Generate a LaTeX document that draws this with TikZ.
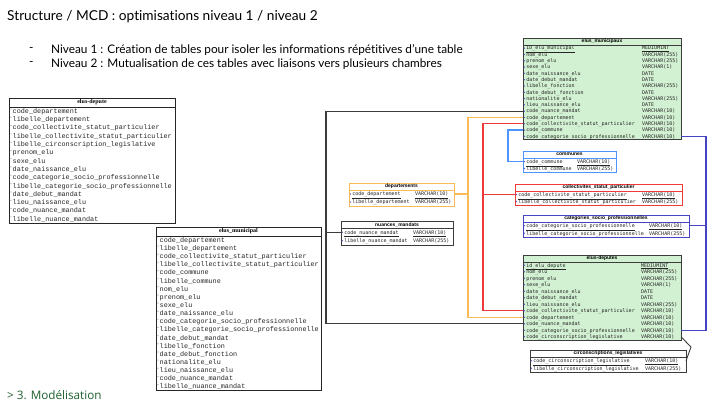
\documentclass[tikz,border=0pt]{standalone}
\usepackage{fontspec}
\setmainfont{Lato}[Ligatures={NoCommon}]
\newfontfamily\monoL{Liberation Mono}
\newfontfamily\monoD{DejaVu Sans Mono}
\newfontfamily\hdr{Liberation Sans}
\newfontfamily\hdrserif{Liberation Serif}
\newfontfamily\footf{Open Sans}
\definecolor{tgreen}{HTML}{D2F0D2}
\definecolor{dborder}{HTML}{3C3C3C}
\definecolor{corange}{HTML}{F8BB55}
\definecolor{cred}{HTML}{EE3A3A}
\definecolor{cblue}{HTML}{4D94FF}
\definecolor{cindigo}{HTML}{4545C4}
\definecolor{cfoot}{HTML}{1E5F2E}
\definecolor{cmark}{HTML}{5A5AD8}
\tikzset{
  rfont/.style={font=\monoD\fontsize{5}{5}\selectfont, inner sep=0pt, text=black!85},
  hfont/.style={font=\hdr\bfseries\fontsize{5}{5}\selectfont, inner sep=0pt},
  lrfont/.style={font=\monoL\fontsize{6.8}{7}\selectfont, inner sep=0pt, text=black!85},
  lhfont/.style={font=\hdrserif\bfseries\fontsize{6}{6}\selectfont, inner sep=0pt},
  conn/.style={line width=1.3pt},
  bigtext/.style={font=\fontsize{11.8}{13}\selectfont, inner sep=0pt, anchor=west},
}
% right-hand (model) tables: name, xl, xr, ytop, rowh, border, fill, type x, title ; rows in \trows
\newcommand{\rtab}[9]{%
  \global\let\nr\relax
  \foreach \fa/\ty [count=\i] in \trows {\xdef\nr{\i}}%
  \pgfmathsetmacro{\yb}{#4+7+\nr*#5}%
  \draw[#6, line width=0.9pt, fill=#7] (#2,#4) rectangle (#3,\yb);
  \draw[#6, line width=0.9pt] (#2,#4+7) -- (#3,#4+7);
  \node[hfont] (#1) at ({(#2+#3)/2},#4+3.6) {#9};
  \foreach \fa/\ty [count=\i] in \trows {
    \pgfmathsetmacro{\yc}{#4+7+(\i-0.5)*#5}
    \node[rfont, anchor=base west] (#1-\i-n) at (#2+3.2,\yc+1.8) {\fa};
    \node[rfont, anchor=base west] (#1-\i-t) at (#8,\yc+1.8) {\ty};
    \fill[cmark] (#2+1.4,\yc) circle (0.7);
    \coordinate (#1-\i-l) at (#2,\yc);
    \coordinate (#1-\i-r) at (#3,\yc);
  }
}
% left-hand (flat) tables: name, xl, xr, ytop, header h, rowh, title ; rows in \trows
\newcommand{\ltab}[7]{%
  \global\let\nr\relax
  \foreach \fa [count=\i] in \trows {\xdef\nr{\i}}%
  \pgfmathsetmacro{\yb}{#4+#5+\nr*#6}%
  \draw[black!85, line width=0.8pt, fill=white] (#2,#4) rectangle (#3,\yb);
  \draw[black!85, line width=0.8pt] (#2,#4+#5) -- (#3,#4+#5);
  \node[lhfont] (#1) at ({(#2+#3)/2},#4+#5/2) {#7};
  \foreach \fa [count=\i] in \trows {
    \pgfmathsetmacro{\yc}{#4+#5+(\i-0.5)*#6}
    \node[lrfont, anchor=base west] (#1-\i) at (#2+3.5,\yc+2.2) {\fa};
    \fill[black!40] (#2+2,\yc-2.2) circle (0.6);
  }
}
\begin{document}
\begin{tikzpicture}[x=1pt, y=-1pt]
\fill[white] (0,0) rectangle (720,405);
\useasboundingbox (0,0) rectangle (720,405);

% titles
\node[anchor=west, inner sep=0pt, font=\fontsize{13.7}{15}\selectfont] (title) at (7,17) {Structure / MCD : optimisations niveau 1 / niveau 2};
\node[bigtext] (b1d) at (29,50) {-};
\node[bigtext] (b1) at (51,50) {Niveau 1 : Création de tables pour isoler les informations répétitives d’une table};
\node[bigtext] (b2d) at (29,64) {-};
\node[bigtext] (b2) at (51,64) {Niveau 2 : Mutualisation de ces tables avec liaisons vers plusieurs chambres};
\node[anchor=west, inner sep=0pt, text=cfoot, font=\footf\fontsize{11.7}{13}\selectfont] (foot) at (7,395) {> 3. Modélisation};

% left flat tables
\def\trows{code\_departement, libelle\_departement, code\_collectivite\_statut\_particulier, libelle\_collectivite\_statut\_particulier, libelle\_circonscription\_legislative, prenom\_elu, sexe\_elu, date\_naissance\_elu, code\_categorie\_socio\_professionnelle, libelle\_categorie\_socio\_professionnelle, date\_debut\_mandat, lieu\_naissance\_elu, code\_nuance\_mandat, libelle\_nuance\_mandat}
\ltab{edep}{9}{175}{98}{9}{8.3}{elus-depute}

\def\trows{code\_departement, libelle\_departement, code\_collectivite\_statut\_particulier, libelle\_collectivite\_statut\_particulier, code\_commune, libelle\_commune, nom\_elu, prenom\_elu, sexe\_elu, date\_naissance\_elu, code\_categorie\_socio\_professionnelle, libelle\_categorie\_socio\_professionnelle, date\_debut\_mandat, libelle\_fonction, date\_debut\_fonction, nationalite\_elu, lieu\_naissance\_elu, code\_nuance\_mandat, libelle\_nuance\_mandat}
\ltab{emun}{156}{321}{227}{9}{8.15}{elus\_municipal}

% key coordinates for connector trunks
\coordinate (kd) at (326,0);
\coordinate (ko) at (468,0);
\coordinate (kr) at (483,0);
\coordinate (kb) at (508,0);
\coordinate (ki) at (706,0);
\coordinate (cbend) at (691,347);

% right model tables
\def\trows{\underline{ID\_elu\_municipal}/\underline{MEDIUMINT}, nom\_elu/VARCHAR(255), prenom\_elu/VARCHAR(255), sexe\_elu/VARCHAR(1), date\_naissance\_elu/DATE, date\_debut\_mandat/DATE, libelle\_fonction/VARCHAR(255), date\_debut\_fonction/DATE, nationalite\_elu/VARCHAR(255), lieu\_naissance\_elu/DATE, code\_nuance\_mandat/VARCHAR(10), code\_departement/VARCHAR(10), code\_collectivite\_statut\_particulier/VARCHAR(10), code\_commune/VARCHAR(10), code\_categorie\_socio\_professionnelle/VARCHAR(10)}
\rtab{em}{523}{681}{38}{6.3}{dborder}{tgreen}{642}{elus\_municipaux}

\def\trows{\underline{id\_elu\_depute}/\underline{MEDIUMINT}, nom\_elu/VARCHAR(255), prenom\_elu/VARCHAR(255), sexe\_elu/VARCHAR(1), date\_naissance\_elu/DATE, date\_debut\_mandat/DATE, lieu\_naissance\_elu/VARCHAR(255), code\_collectivite\_statut\_particulier/VARCHAR(10), code\_departement/VARCHAR(10), code\_nuance\_mandat/VARCHAR(10), code\_categorie\_socio\_professionnelle/VARCHAR(10), code\_circonscription\_legislative/VARCHAR(10)}
\rtab{ed}{523}{681}{255}{6.5}{dborder}{tgreen}{641}{elus-deputes}

% connectors (drawn under the lookup tables)
\draw[conn, dborder] (em-11-l) -- (em-11-l -| kd) -- (ed-10-l -| kd) -- (ed-10-l);
\draw[conn, corange] (em-12-l) -- (em-12-l -| ko) -- (ed-9-l -| ko) -- (ed-9-l);
\draw[conn, cred] (em-13-l) -- (em-13-l -| kr) -- (ed-8-l -| kr) -- (ed-8-l);
\draw[conn, cindigo] (em-15-r) -- (em-15-r -| ki) -- (ed-11-r -| ki) -- (ed-11-r);

\def\trows{\underline{code\_commune}/\underline{VARCHAR(10)}, libelle\_commune/VARCHAR(255)}
\rtab{co}{523}{616}{151}{7}{cblue}{white}{577}{communes}
\draw[conn, cblue] (em-14-l) -- (em-14-l -| kb) -- (co-1-l -| kb) -- (co-1-l);

\def\trows{\underline{code\_collectivite\_statut\_particulier}/\underline{VARCHAR(10)}, libelle\_collectivite\_statut\_particulier/VARCHAR(255)}
\rtab{cs}{515}{682}{184}{7}{cred}{white}{642}{collectivites\_statut\_particulier}
\draw[conn, cred] (cs-1-l) -- (cs-1-l -| kr);

\def\trows{\underline{code\_categorie\_socio\_professionnelle}/\underline{VARCHAR(10)}, libelle\_categorie\_socio\_professionnelle/VARCHAR(255)}
\rtab{cat}{523}{689}{215}{7.5}{cindigo}{white}{649}{categories\_socio\_professionnelles}
\draw[conn, cindigo] (cat-1-r) -- (cat-1-r -| ki);

\def\trows{\underline{code\_circonscription\_legislative}/\underline{VARCHAR(10)}, libelle\_circonscription\_legislative/VARCHAR(255)}
\rtab{ci}{530}{686}{350}{7.5}{dborder}{white}{645}{circonscriptions\_legislatives}
\draw[line width=0.9pt, dborder] (ed-12-r) -- (cbend) -- (ci-1-r);

\def\trows{\underline{code\_departement}/\underline{VARCHAR(10)}, libelle\_departement/VARCHAR(255)}
\rtab{dep}{349}{454}{183}{8}{corange}{white}{415}{departements}
\draw[conn, corange] (dep-1-r) -- (dep-1-r -| ko);

\def\trows{\underline{code\_nuance\_mandat}/\underline{VARCHAR(10)}, libelle\_nuance\_mandat/VARCHAR(255)}
\rtab{nm}{341}{453}{221}{8.5}{dborder}{white}{413}{nuances\_mandats}
\draw[conn, dborder] (nm-1-l) -- (nm-1-l -| kd);
\end{tikzpicture}
\end{document}
